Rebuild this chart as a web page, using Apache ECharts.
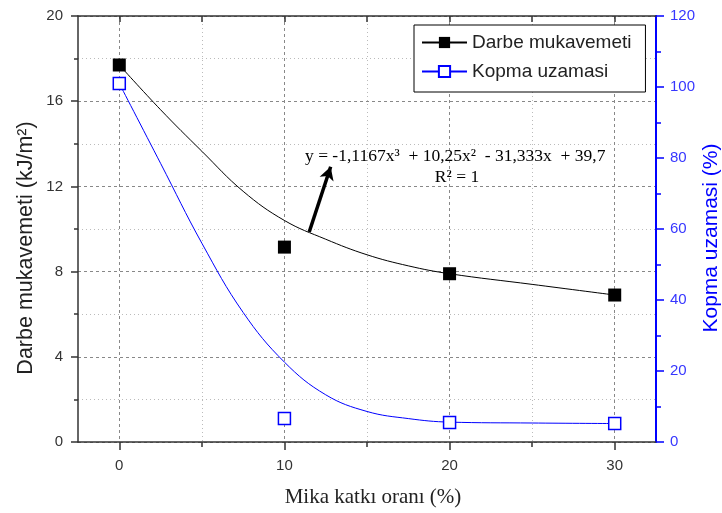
<!DOCTYPE html>
<html>
<head>
<meta charset="utf-8">
<script src="https://cdn.jsdelivr.net/npm/echarts@6/dist/echarts.min.js"></script>
<style>html,body{margin:0;padding:0;background:#fff;}#c{width:722px;height:513px;}</style>
</head>
<body>
<div id="c"></div>
<script>
// ---- data ----
const xCategories = [0, 10, 20, 30];
const darbe = [17.7, 9.15, 7.9, 6.9];
const kopma = [101, 6.6, 5.5, 5.2];
// smooth fit curves
const curveX = [0, 2.5, 5, 7.5, 10, 12.5, 15, 17.5, 20, 25, 30];
const darbeCurveY = [17.7, 15.6, 13.65, 11.77, 10.4, 9.52, 8.79, 8.27, 7.9, 7.4, 6.9];
const kopmaCurveY = [101, 78.5, 56, 36.5, 22.5, 13.3, 8.6, 6.6, 5.6, 5.35, 5.2];
const xMajorTicks = [0, 10, 20, 30];
const xMinorTicks = [5, 15, 25];
const xTopTicks = [0, 5, 10, 15, 20, 25, 30];
const arrowFrom = [11.5, 9.86];
const arrowTo = [12.8, 12.92];
const equationText = 'y = -1,1167x\u00B3  + 10,25x\u00B2  - 31,333x  + 39,7';
const r2Text = 'R\u00B2 = 1';

const pairs = (xs, ys) => xs.map((x, i) => [x, ys[i]]);

const chart = echarts.init(document.getElementById('c'), null, {renderer: 'canvas'});
const axisDark = '#333';
const blue = '#0000ff';
const labelFont = {fontFamily: 'Liberation Sans, Arial, sans-serif', fontSize: 15, color: '#333'};

const option = {
  animation: false,
  backgroundColor: '#fff',
  grid: {left: 78, right: 66, top: 16, bottom: 71, containLabel: false},
  legend: {
    data: ['Darbe mukavemeti', 'Kopma uzamasi'],
    orient: 'vertical',
    left: 414, top: 25,
    padding: [8, 14, 11, 7],
    itemWidth: 45, itemHeight: 14, itemGap: 10,
    borderColor: '#000', borderWidth: 1,
    backgroundColor: '#fff',
    textStyle: {fontFamily: 'Liberation Sans, Arial, sans-serif', fontSize: 19, color: '#222'},
    selectedMode: false
  },
  xAxis: [
    {
      type: 'value', position: 'bottom', min: -2.5, max: 32.5,
      axisLine: {show: true, onZero: false, lineStyle: {color: axisDark, width: 1.5}},
      axisTick: {show: true, inside: false, length: 8, customValues: xMajorTicks, lineStyle: {color: axisDark, width: 1.5}},
      axisLabel: {show: true, margin: 16, customValues: xMajorTicks, ...labelFont},
      splitLine: {show: true, lineStyle: {color: '#888', type: [3, 3], width: 1}}
    },
    {
      type: 'value', position: 'bottom', min: -2.5, max: 32.5,
      axisLine: {show: false, onZero: false},
      axisTick: {show: true, inside: false, length: 5, customValues: xMinorTicks, lineStyle: {color: axisDark, width: 1.5}},
      axisLabel: {show: false, customValues: xMinorTicks},
      splitLine: {show: true, lineStyle: {color: '#bbb', type: [1, 3], width: 1}}
    },
    {
      type: 'value', position: 'top', min: -2.5, max: 32.5,
      axisLine: {show: true, onZero: false, lineStyle: {color: axisDark, width: 1.5}},
      axisTick: {show: true, inside: true, length: 6, customValues: xTopTicks, lineStyle: {color: axisDark, width: 1.5}},
      axisLabel: {show: false, customValues: xTopTicks},
      splitLine: {show: false}
    }
  ],
  yAxis: [
    {
      type: 'value', position: 'left', min: 0, max: 20, interval: 4,
      axisLine: {show: true, onZero: false, lineStyle: {color: axisDark, width: 1.5}},
      axisTick: {show: true, inside: false, length: 7, lineStyle: {color: axisDark, width: 1.5}},
      minorTick: {show: true, splitNumber: 2, length: 4, lineStyle: {color: axisDark, width: 1.5}},
      axisLabel: {margin: 15, ...labelFont},
      splitLine: {show: true, lineStyle: {color: '#888', type: [3, 3], width: 1}},
      minorSplitLine: {show: true, lineStyle: {color: '#bbb', type: [1, 3], width: 1}}
    },
    {
      type: 'value', position: 'right', min: 0, max: 120, interval: 20,
      axisLine: {show: true, onZero: false, lineStyle: {color: blue, width: 2}},
      axisTick: {show: true, inside: false, length: 8, lineStyle: {color: blue, width: 1.5}},
      minorTick: {show: true, splitNumber: 2, length: 5, lineStyle: {color: blue, width: 1.5}},
      axisLabel: {margin: 14, fontFamily: 'Liberation Sans, Arial, sans-serif', fontSize: 15, color: '#3636ff'},
      splitLine: {show: false}
    }
  ],
  series: [
    {
      name: 'Darbe mukavemeti', type: 'line', xAxisIndex: 0, yAxisIndex: 0,
      data: pairs(curveX, darbeCurveY), smooth: 0.4, showSymbol: false,
      symbol: 'rect', symbolSize: 12,
      itemStyle: {color: '#000'},
      lineStyle: {color: '#000', width: 1},
      z: 3,
      markLine: {
        silent: true, symbol: ['none', 'arrow'], symbolSize: [11, 13],
        label: {show: false},
        lineStyle: {color: '#000', width: 3.5, type: 'solid'},
        data: [[{coord: arrowFrom}, {coord: arrowTo}]]
      }
    },
    {
      name: 'Kopma uzamasi', type: 'line', xAxisIndex: 0, yAxisIndex: 1,
      data: pairs(curveX, kopmaCurveY), smooth: 0.4, showSymbol: false,
      symbol: 'rect', symbolSize: 12,
      itemStyle: {color: '#fff', borderColor: blue, borderWidth: 1.5},
      lineStyle: {color: blue, width: 1},
      z: 3
    },
    {
      name: 'darbePts', type: 'scatter', xAxisIndex: 0, yAxisIndex: 0,
      data: pairs(xCategories, darbe), symbol: 'rect', symbolSize: 13,
      itemStyle: {color: '#000', opacity: 1}, z: 5
    },
    {
      name: 'kopmaPts', type: 'scatter', xAxisIndex: 0, yAxisIndex: 1,
      data: pairs(xCategories, kopma), symbol: 'rect', symbolSize: 12,
      itemStyle: {color: '#fff', borderColor: blue, borderWidth: 1.5, opacity: 1}, z: 5
    }
  ],
  graphic: [
    {type: 'text', x: 305, y: 156, z: 10,
     style: {text: equationText, font: '17.5px "Liberation Serif", "Times New Roman", serif', fill: '#000', align: 'left', verticalAlign: 'middle'}},
    {type: 'text', x: 457, y: 177, z: 10,
     style: {text: r2Text, font: '17.5px "Liberation Serif", "Times New Roman", serif', fill: '#000', align: 'center', verticalAlign: 'middle'}},
    {type: 'text', x: 26, y: 248, rotation: Math.PI / 2, z: 10,
     style: {text: 'Darbe mukavemeti (kJ/m\u00B2)', font: '21.5px "Liberation Sans", Arial, sans-serif', fill: '#222', align: 'center', verticalAlign: 'middle'}},
    {type: 'text', x: 711, y: 238, rotation: Math.PI / 2, z: 10,
     style: {text: 'Kopma uzamasi (%)', font: '21px "Liberation Sans", Arial, sans-serif', fill: blue, align: 'center', verticalAlign: 'middle'}},
    {type: 'text', x: 373, y: 497, z: 10,
     style: {text: 'Mika katk\u0131 oran\u0131 (%)', font: '21px "Liberation Serif", "Times New Roman", serif', fill: '#222', align: 'center', verticalAlign: 'middle'}}
  ]
};
chart.setOption(option);
</script>
</body>
</html>
